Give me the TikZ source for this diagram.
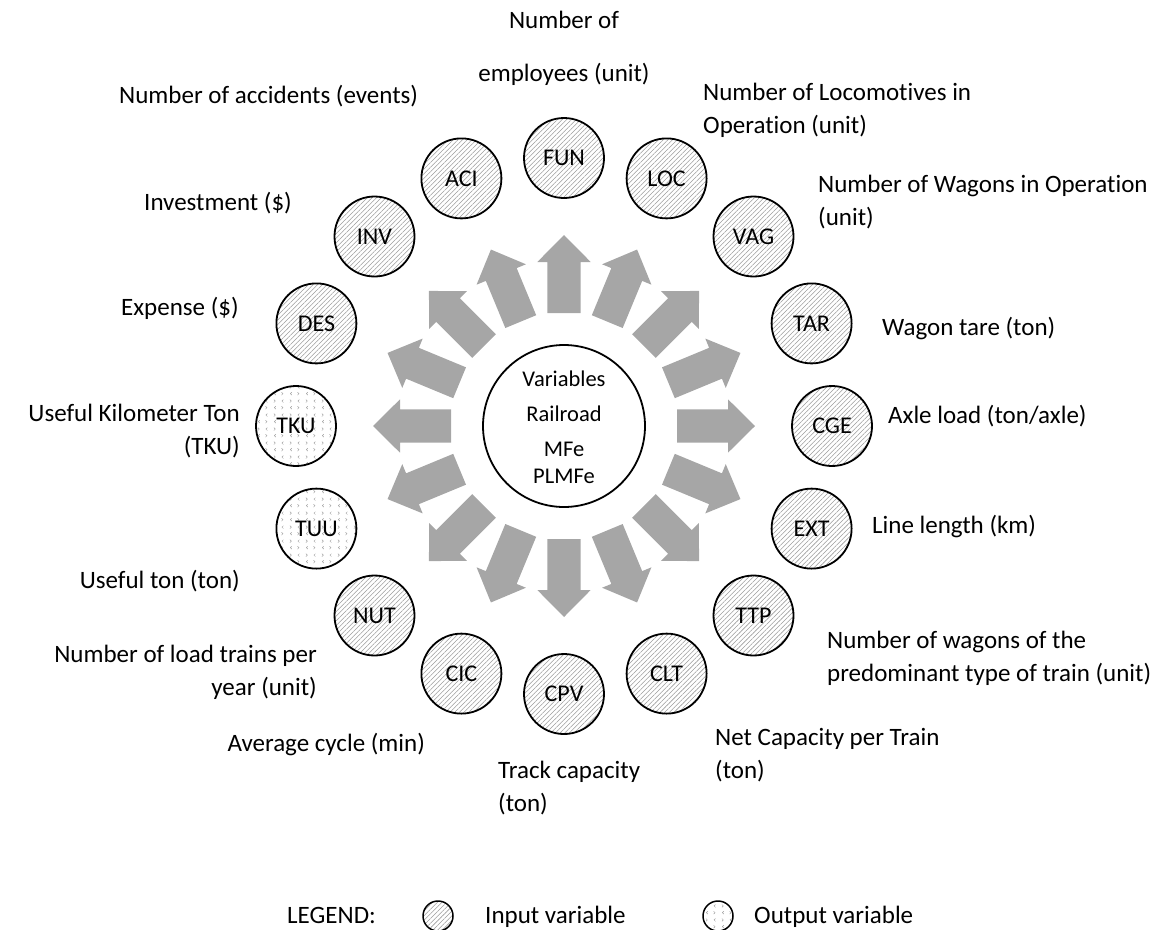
\documentclass[tikz,border=0pt]{standalone}
\usepackage{fontspec}
\setmainfont[Ligatures={NoCommon,NoRare,NoContextual},Contextuals=NoAlternate]{Carlito}
\usetikzlibrary{patterns,patterns.meta}
\definecolor{arrowgray}{HTML}{A6A6A6}
\definecolor{hatchgray}{HTML}{9C9C9C}
\definecolor{dotgray}{HTML}{A0A0A0}
\tikzdeclarepattern{
  name=chevrons,
  type=uncolored,
  bounding box={(0pt,0pt) and (16pt,14pt)},
  tile size={(16pt,14pt)},
  code={
    \draw[line width=0.5pt] (4pt,2pt) -- (2.5pt,3.5pt) -- (4pt,5pt);
    \draw[line width=0.5pt] (10pt,2pt) -- (11.5pt,3.5pt) -- (10pt,5pt);
    \draw[line width=0.5pt] (12pt,9pt) -- (10.5pt,10.5pt) -- (12pt,12pt);
    \draw[line width=0.5pt] (2pt,9pt) -- (3.5pt,10.5pt) -- (2pt,12pt);
  }
}
\begin{document}
\begin{tikzpicture}[x=1pt,y=-1pt,
  lbl/.style={inner sep=0pt, font=\fontsize{25}{33}\selectfont},
  varbase/.style={circle, draw, line width=1.8pt, minimum size=80pt, inner sep=0pt, font=\fontsize{24}{28}\selectfont},
  invar/.style={varbase, pattern={Lines[angle=45,distance=3.3pt,line width=0.55pt]}, pattern color=hatchgray},
  outvar/.style={varbase, pattern=chevrons, pattern color=dotgray},
  bigarrow/.style={fill=arrowgray, draw=none}
]
\useasboundingbox (0,0) rectangle (1155,929);

% centre
\node[circle, draw, line width=1.8pt, minimum size=162pt, inner sep=0pt] (C) at (564,426) {};
\node[inner sep=0pt, font=\fontsize{22.5}{35}\selectfont, align=center, anchor=base] (ctext) at (564,483)
  {Variables\\Railroad\\MFe\\[-8pt]PLMFe};

% arrows
\foreach \a in {0,22.5,...,337.5}
  \fill[bigarrow, shift={(C.center)}, rotate=\a]
    (113,-16.7) -- (164,-16.7) -- (164,-26.7) -- (191,0) -- (164,26.7) -- (164,16.7) -- (113,16.7) -- cycle;

% variable circles
\node[invar]  (CGE) at (832.0,426.0) {CGE};
\node[invar]  (TAR) at (811.6,323.4) {TAR};
\node[invar]  (VAG) at (753.5,236.5) {VAG};
\node[invar]  (LOC) at (666.6,178.4) {LOC};
\node[invar]  (FUN) at (564.0,158.0) {FUN};
\node[invar]  (ACI) at (461.4,178.4) {ACI};
\node[invar]  (INV) at (374.5,236.5) {INV};
\node[invar]  (DES) at (316.4,323.4) {DES};
\node[outvar] (TKU) at (296.0,426.0) {TKU};
\node[outvar] (TUU) at (316.4,528.6) {TUU};
\node[invar]  (NUT) at (374.5,615.5) {NUT};
\node[invar]  (CIC) at (461.4,673.6) {CIC};
\node[invar]  (CPV) at (564.0,694.0) {CPV};
\node[invar]  (CLT) at (666.6,673.6) {CLT};
\node[invar]  (TTP) at (753.5,615.5) {TTP};
\node[invar]  (EXT) at (811.6,528.6) {EXT};

% labels (multi-line: base anchor = last line baseline)
\node[lbl, align=center, anchor=base] (lFUN) at (564,81) {Number of\\[20pt]employees (unit)};
\node[lbl, align=left, anchor=base west] (lLOC) at (703,133) {Number of Locomotives in\\Operation (unit)};
\node[lbl, align=left, anchor=base west] (lVAG) at (818,225) {Number of Wagons in Operation\\(unit)};
\node[lbl, anchor=base west] (lTAR) at (882,335) {Wagon tare (ton)};
\node[lbl, anchor=base west] (lCGE) at (888,423) {Axle load (ton/axle)};
\node[lbl, anchor=base west] (lEXT) at (872,533) {Line length (km)};
\node[lbl, align=left, anchor=base west] (lTTP) at (827,681) {Number of wagons of the\\predominant type of train (unit)};
\node[lbl, align=left, anchor=base west] (lCLT) at (715,778) {Net Capacity per Train\\(ton)};
\node[lbl, align=left, anchor=base west] (lCPV) at (498,811) {Track capacity\\(ton)};
\node[lbl, anchor=base east] (lCIC) at (425,751) {Average cycle (min)};
\node[lbl, align=right, anchor=base east] (lNUT) at (317,695) {Number of load trains per\\year (unit)};
\node[lbl, anchor=base east] (lTUU) at (240,588) {Useful ton (ton)};
\node[lbl, align=right, anchor=base east] (lTKU) at (240,454) {Useful Kilometer Ton\\(TKU)};
\node[lbl, anchor=base west] (lDES) at (121,315) {Expense (\$)};
\node[lbl, anchor=base west] (lINV) at (144,210) {Investment (\$)};
\node[lbl, anchor=base west] (lACI) at (119,103) {Number of accidents (events)};

% legend
\node[lbl, anchor=base west] (legtitle) at (287,923) {LEGEND:};
\node[varbase, invar, minimum size=30pt, line width=1.5pt] (legin) at (438,916) {};
\node[lbl, anchor=base west] (legintext) at (485,923) {Input variable};
\node[varbase, outvar, minimum size=30pt, line width=1.5pt] (legout) at (718,916) {};
\node[lbl, anchor=base west] (legouttext) at (754,923) {Output variable};
\end{tikzpicture}
\end{document}
